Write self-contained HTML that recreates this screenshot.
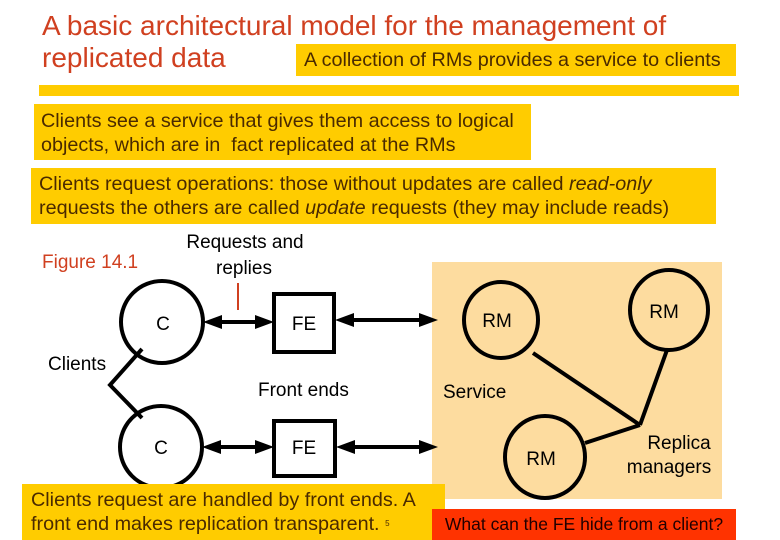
<!DOCTYPE html>
<html><head><meta charset="utf-8"><style>
body{margin:0;width:780px;height:540px;background:#fff;overflow:hidden;position:relative;font-family:"Liberation Sans",sans-serif}
.b{position:absolute;background:#ffcc00;color:#4a2a00;font-size:19.8px;line-height:24px;white-space:nowrap}
svg{position:absolute;left:0;top:0}
</style></head><body>
<svg width="780" height="540">
<rect x="432" y="262" width="290" height="237" fill="#fddc9f"/>
<g fill="none" stroke="#000" stroke-width="4">
<ellipse cx="162" cy="322" rx="41" ry="41"/>
<ellipse cx="161" cy="447" rx="41" ry="41"/>
<rect x="274" y="294" width="60" height="58"/>
<rect x="274" y="421" width="61" height="55"/>
<ellipse cx="501" cy="320" rx="37" ry="38"/>
<ellipse cx="669" cy="310" rx="39" ry="40"/>
<ellipse cx="545" cy="457" rx="40" ry="41"/>
<polyline points="142,349 110,385 142,418"/>
<line x1="533" y1="353" x2="640" y2="425"/>
<line x1="667" y1="350" x2="640" y2="425"/>
<line x1="640" y1="425" x2="585" y2="443"/>
<line x1="210" y1="322" x2="266" y2="322"/>
<line x1="342" y1="320" x2="428" y2="320"/>
<line x1="208" y1="447" x2="266" y2="447"/>
<line x1="343" y1="447" x2="428" y2="447"/>
</g>
<g fill="#000">
<polygon points="203,322 222,315 222,329"/><polygon points="274,322 255,315 255,329"/>
<polygon points="335,320 354,313 354,327"/><polygon points="438,320 419,313 419,327"/>
<polygon points="202,447 221,440 221,454"/><polygon points="274,447 255,440 255,454"/>
<polygon points="336,447 355,440 355,454"/><polygon points="438,447 419,440 419,454"/>
</g>
<line x1="238" y1="283" x2="238" y2="310" stroke="#d04020" stroke-width="2"/>
<g font-family="Liberation Sans,sans-serif" font-size="19" fill="#000">
<text x="163" y="330" text-anchor="middle">C</text>
<text x="161" y="454" text-anchor="middle">C</text>
<text x="304" y="330" text-anchor="middle">FE</text>
<text x="304" y="454" text-anchor="middle">FE</text>
<text x="497" y="327" text-anchor="middle">RM</text>
<text x="664" y="318" text-anchor="middle">RM</text>
<text x="541" y="465" text-anchor="middle">RM</text>
<text x="245" y="248" text-anchor="middle">Requests and</text>
<text x="244" y="274" text-anchor="middle">replies</text>
<text x="48" y="370">Clients</text>
<text x="258" y="396">Front ends</text>
<text x="443" y="398">Service</text>
<text x="679" y="449" text-anchor="middle">Replica</text>
<text x="669" y="473" text-anchor="middle">managers</text>
<text x="42" y="268" fill="#d04020">Figure 14.1</text>
</g>
</svg>
<div style="position:absolute;left:42px;top:10px;font-size:28px;line-height:32px;color:#d04020;white-space:nowrap">A basic architectural model for the management of<br>replicated data</div>
<div class="b" style="left:296px;top:44px;width:440px;height:32px;line-height:32px;padding-left:8px;box-sizing:border-box">A collection of RMs provides a service to clients</div>
<div class="b" style="left:39px;top:85px;width:700px;height:11px"></div>
<div class="b" style="left:34px;top:104px;width:497px;height:56px;padding:5px 0 0 7px;box-sizing:border-box">Clients see a service that gives them access to logical<br>objects, which are in&nbsp; fact replicated at the RMs</div>
<div class="b" style="left:31px;top:168px;width:685px;height:56px;padding:4px 0 0 8px;box-sizing:border-box">Clients request operations: those without updates are called <i>read-only</i><br>requests the others are called <i>update</i> requests (they may include reads)</div>
<div class="b" style="left:22px;top:484px;width:423px;height:56px;padding:4px 0 0 9px;box-sizing:border-box">Clients request are handled by front ends. A<br>front end makes replication transparent. <span style="font-size:8px;vertical-align:top">5</span></div>
<div class="b" style="left:432px;top:509px;width:304px;height:31px;background:#ff3300;color:#200;font-size:17.5px;line-height:31px;text-align:center">What can the FE hide from a client?</div>
</body></html>
